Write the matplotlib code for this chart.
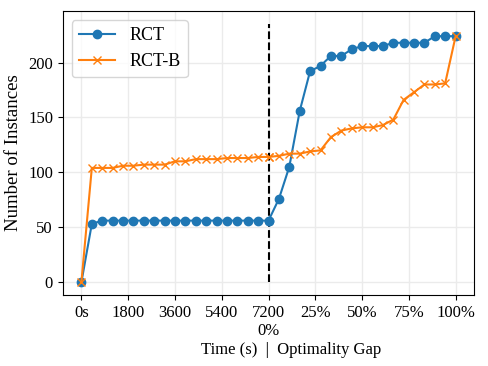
import matplotlib
matplotlib.use("Agg")
import matplotlib.pyplot as plt
import numpy as np

plt.rcParams['font.family'] = ['Liberation Serif', 'DejaVu Serif']

# Time phase (seconds) and optimality-gap phase (%)
time_s = [0, 400, 800, 1200, 1600, 2000, 2400, 2800, 3200, 3600,
          4000, 4400, 4800, 5200, 5600, 6000, 6400, 6800, 7200]
gap_pct = [0, 5.6, 11.1, 16.7, 22.2, 27.8, 33.3, 38.9, 44.4, 50.0,
           55.6, 61.1, 66.7, 72.2, 77.8, 83.3, 88.9, 94.4, 100.0]

rct_time = [0, 53, 56, 56, 56, 56, 56, 56, 56, 56,
            56, 56, 56, 56, 56, 56, 56, 56, 56]
rct_gap = [56, 76, 105, 156, 192, 197, 206, 206, 212, 215,
           215, 215, 218, 218, 218, 218, 224, 224, 224]

rctb_time = [0, 104, 104, 104, 106, 106, 107, 107, 107, 110,
             110, 112, 112, 112, 113, 113, 113, 114, 114]
rctb_gap = [114, 115, 117, 117, 119, 120, 132, 138, 140, 141,
            141, 143, 148, 166, 173, 180, 180, 181, 224]

tick_labels = ['0s', '1800', '3600', '5400', '7200\n0%', '25%', '50%', '75%', '100%']
time_ticks = [0, 1800, 3600, 5400, 7200]
gap_ticks = [25, 50, 75, 100]

def tpos(t):
    return np.asarray(t, dtype=float) / 1800.0

def gpos(g):
    return 4.0 + np.asarray(g, dtype=float) / 25.0

x_all = np.concatenate([tpos(time_s), gpos(gap_pct)])
rct_all = np.concatenate([rct_time, rct_gap])
rctb_all = np.concatenate([rctb_time, rctb_gap])

fig = plt.figure(figsize=(4.88, 3.66), dpi=100)
ax = fig.add_axes([0.1285, 0.194, 0.8435, 0.776])

ax.plot(x_all, rct_all, marker='o', markersize=6, color='tab:blue', label='RCT', zorder=3)
ax.plot(x_all, rctb_all, marker='x', markersize=6, color='tab:orange', label='RCT-B', zorder=3)

ymax_line = max(max(rct_all), max(rctb_all)) * 1.05
ax.plot([tpos(7200), tpos(7200)], [0, ymax_line], linestyle='--', color='black', linewidth=1.5, zorder=2)

ticks = list(tpos(time_ticks)) + list(gpos(gap_ticks))
ax.set_xticks(ticks)
ax.set_xticklabels(tick_labels, fontsize=12)
ax.tick_params(axis='y', labelsize=12)
ax.set_yticks([0, 50, 100, 150, 200])
ax.grid(True, color='#ebebeb', linewidth=1.0)
ax.set_axisbelow(True)

ax.set_ylabel('Number of Instances', fontsize=13.5)
ax.set_xlabel('Time (s)  |  Optimality Gap', fontsize=12)
ax.xaxis.set_label_coords(0.555, -0.165)

ax.legend(loc='upper left', fontsize=13, handlelength=2.0)

fig.savefig('out.png', dpi=100)
